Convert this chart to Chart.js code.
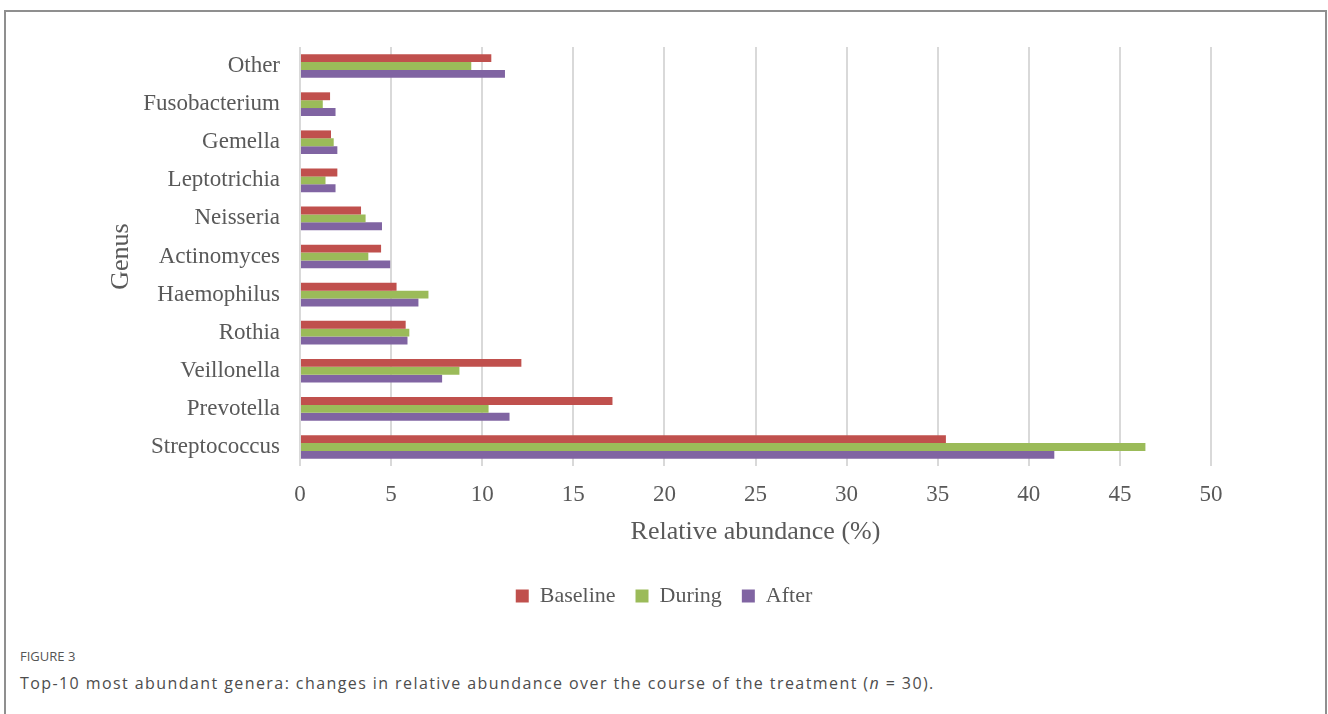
<!DOCTYPE html>
<html>
<head>
<meta charset="utf-8">
<script src="https://cdn.jsdelivr.net/npm/chart.js@4.4.1/dist/chart.umd.min.js"></script>
<style>
  html, body { margin: 0; padding: 0; background: #fff; width: 1328px; height: 714px; overflow: hidden; }
  #frame { position: absolute; left: 4px; top: 10px; width: 1323px; height: 730px; border: 2px solid #8f8f8f; box-sizing: border-box; }
  #wrap { position: absolute; left: 0; top: 0; width: 1328px; height: 640px; }
  .fig { position: absolute; left: 20px; top: 647px; font-family: "Open Sans", sans-serif; font-size: 13px; color: #555; }
  .cap { position: absolute; left: 20px; top: 672px; font-family: "Open Sans", sans-serif; font-size: 16px; letter-spacing: 1.42px; color: #4d4d4d; white-space: nowrap; }
</style>
</head>
<body>
<div id="frame"></div>
<div id="wrap"><canvas id="c" width="1328" height="640"></canvas></div>
<div class="fig">FIGURE 3</div>
<div class="cap">Top-10 most abundant genera: changes in relative abundance over the course of the treatment (<i>n</i> = 30).</div>
<script>
// Genera, listed top to bottom
const genera = ['Other', 'Fusobacterium', 'Gemella', 'Leptotrichia', 'Neisseria', 'Actinomyces',
                'Haemophilus', 'Rothia', 'Veillonella', 'Prevotella', 'Streptococcus'];

// Relative abundance (%) per time point
const baseline = [10.5, 1.65, 1.7, 2.05, 3.35, 4.45, 5.3, 5.8, 12.15, 17.15, 35.45];
const during   = [9.4, 1.25, 1.85, 1.4, 3.6, 3.75, 7.05, 6.0, 8.75, 10.35, 46.4];
const after    = [11.25, 1.95, 2.05, 1.95, 4.5, 4.95, 6.5, 5.9, 7.8, 11.5, 41.4];

const seriesNames = ['Baseline', 'During', 'After'];
const seriesColors = ['#c0504d', '#9bbb59', '#8064a2'];

const xTicks = { min: 0, max: 50, step: 5 };

const serif = 'Liberation Serif';
const textGray = '#595959';

new Chart(document.getElementById('c'), {
  type: 'bar',
  data: {
    labels: genera,
    datasets: [baseline, during, after].map((vals, i) => ({
      label: seriesNames[i],
      data: vals,
      backgroundColor: seriesColors[i],
      borderWidth: 0,
      categoryPercentage: 0.62,
      barPercentage: 1.0
    }))
  },
  options: {
    indexAxis: 'y',
    responsive: false,
    animation: false,
    devicePixelRatio: 1,
    layout: { padding: { left: 117, right: 117, top: 47, bottom: 23 } },
    plugins: {
      tooltip: { enabled: false },
      legend: {
        position: 'bottom',
        labels: {
          font: { family: serif, size: 22 },
          color: textGray,
          boxWidth: 13,
          boxHeight: 13,
          padding: 20
        }
      }
    },
    scales: {
      x: {
        type: 'linear',
        min: xTicks.min,
        max: xTicks.max,
        ticks: {
          stepSize: xTicks.step,
          font: { family: serif, size: 23 },
          color: textGray,
          padding: 15
        },
        grid: { color: '#d9d9d9', lineWidth: 2, drawTicks: false },
        border: { display: false },
        title: {
          display: true,
          text: 'Relative abundance (%)',
          font: { family: serif, size: 26 },
          color: textGray,
          padding: { top: 0, bottom: 17 }
        },
        afterFit: (s) => { s.height = 99; }
      },
      y: {
        ticks: {
          font: { family: serif, size: 23 },
          color: textGray,
          padding: 12
        },
        grid: { display: false },
        border: { display: false },
        title: {
          display: true,
          text: 'Genus',
          font: { family: serif, size: 26 },
          color: textGray,
          padding: { top: -11, bottom: 0 }
        },
        afterFit: (s) => { s.width = 183; }
      }
    }
  }
});
</script>
</body>
</html>
